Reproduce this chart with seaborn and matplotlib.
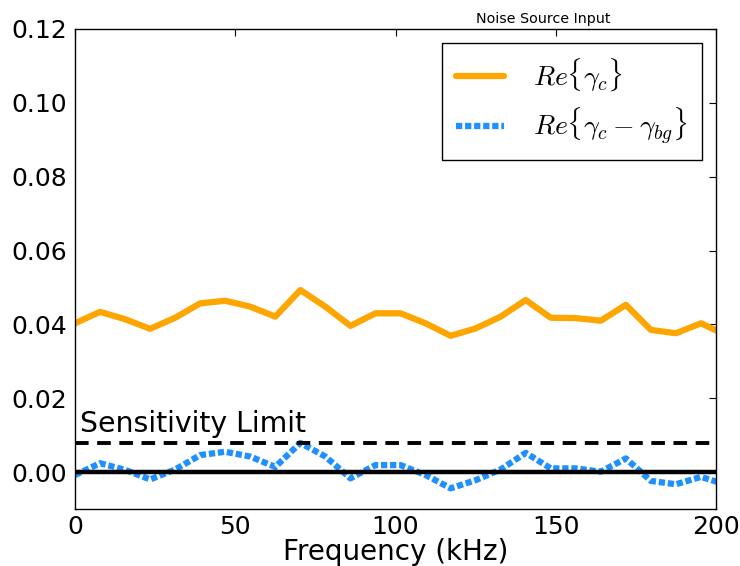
import matplotlib
matplotlib.use("Agg")
import matplotlib.pyplot as plt
import seaborn as sns
import pandas as pd

# Data
freq_khz = [0, 7.8125, 15.625, 23.4375, 31.25, 39.0625, 46.875, 54.6875, 62.5,
            70.3125, 78.125, 85.9375, 93.75, 101.5625, 109.375, 117.1875, 125.0,
            132.8125, 140.625, 148.4375, 156.25, 164.0625, 171.875, 179.6875,
            187.5, 195.3125, 203.125]
re_gamma_c = [0.0403, 0.0434, 0.0414, 0.0388, 0.0418, 0.0457, 0.0464, 0.0448,
              0.0421, 0.0493, 0.0448, 0.0396, 0.0430, 0.0430, 0.0403, 0.0369,
              0.0389, 0.0421, 0.0466, 0.0418, 0.0417, 0.0410, 0.0453, 0.0385,
              0.0376, 0.0403, 0.0371]
re_gamma_diff = [-0.0008, 0.0024, 0.0006, -0.0020, 0.0007, 0.0046, 0.0055,
                 0.0042, 0.0014, 0.0079, 0.0042, -0.0017, 0.0019, 0.0019,
                 -0.0008, -0.0044, -0.0022, 0.0007, 0.0052, 0.0010, 0.0010,
                 0.0001, 0.0037, -0.0024, -0.0033, -0.0013, -0.0034]
sensitivity_limit = 0.008
x_ticks = [0, 50, 100, 150, 200]
y_ticks = [0.00, 0.02, 0.04, 0.06, 0.08, 0.10, 0.12]

sns.set_style("white")
plt.rcParams["font.family"] = ["DejaVu Sans"]
plt.rcParams["mathtext.fontset"] = "cm"
plt.rcParams["text.color"] = "black"
plt.rcParams["axes.labelcolor"] = "black"

fig = plt.figure(figsize=(7.4, 5.66), dpi=100)
ax = fig.add_axes([75 / 740, 1 - 509 / 566, (716 - 75) / 740, (509 - 29) / 566])

df = pd.DataFrame({"f": freq_khz, "c": re_gamma_c, "d": re_gamma_diff})
sns.lineplot(data=df, x="f", y="c", ax=ax, color="orange", linewidth=4.5,
             label=r"$Re\{\gamma_c\}$")
sns.lineplot(data=df, x="f", y="d", ax=ax, color="dodgerblue", linewidth=4.5,
             label=r"$Re\{\gamma_c-\gamma_{bg}\}$")
ax.lines[1].set_dashes((1, 0.45))

ax.axhline(sensitivity_limit, color="black", linewidth=2.8, dashes=(3.5, 2.2))
ax.axhline(0, color="black", linewidth=3.2)
ax.text(1.5, sensitivity_limit + 0.0011, "Sensitivity Limit", fontsize=20.4,
        ha="left", va="bottom", color="black")

ax.set_xlim(0, 200)
ax.set_ylim(-0.01, 0.12)
ax.set_xticks(x_ticks)
ax.set_yticks(y_ticks)
ax.set_xticklabels([str(t) for t in x_ticks])
ax.set_yticklabels([f"{t:.2f}" for t in y_ticks])
ax.tick_params(direction="in", top=True, right=True, length=5, width=0.8,
               labelsize=18, colors="black", pad=6)
ax.tick_params(axis="x", pad=4)
for s in ax.spines.values():
    s.set_visible(True)
    s.set_color("black")
    s.set_linewidth(1.0)
ax.set_xlabel("Frequency (kHz)", fontsize=20, labelpad=-0.5, color="black")
ax.set_ylabel("")
ax.set_title("Noise Source Input", fontsize=10.3, x=0.73, pad=4, color="black")

leg = ax.legend(loc="upper right", fontsize=20, frameon=True, fancybox=False,
                edgecolor="black", borderpad=0.5, handlelength=1.72,
                handletextpad=1.05, labelspacing=0.4, borderaxespad=0.5)
leg.get_frame().set_linewidth(1.0)
leg.get_frame().set_alpha(1)
for t in leg.get_texts():
    t.set_color("black")

fig.savefig("out.png", dpi=100)
